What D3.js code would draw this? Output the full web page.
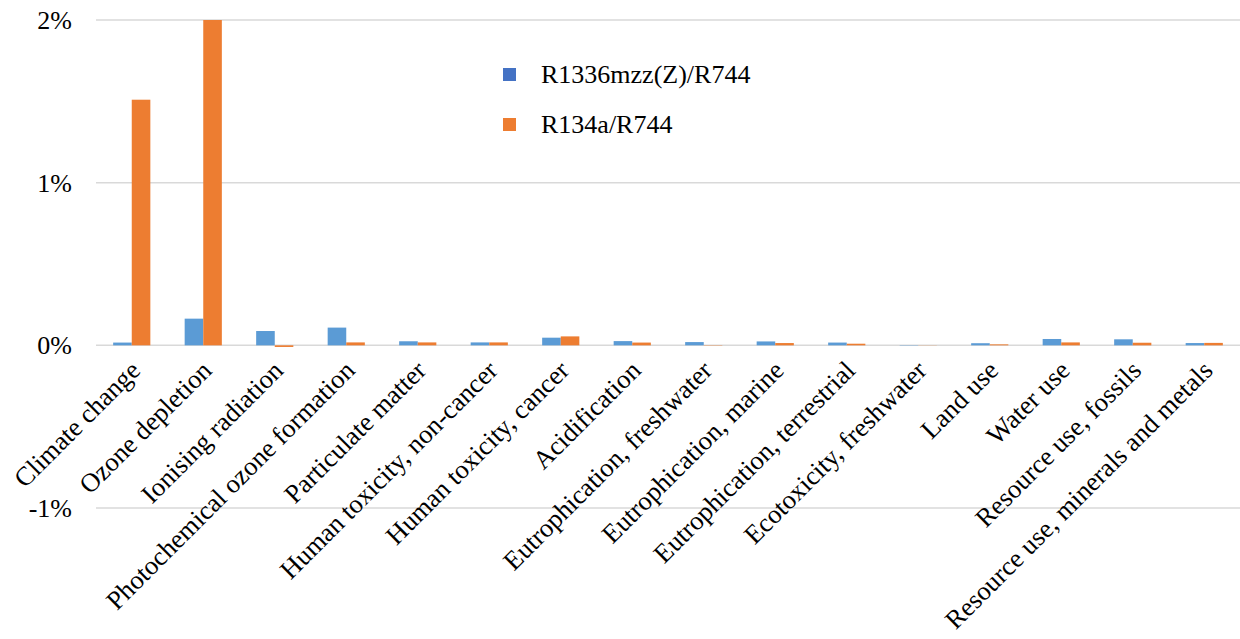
<!DOCTYPE html>
<html><head><meta charset="utf-8">
<script src="https://cdn.jsdelivr.net/npm/d3@7"></script>
<style>body{margin:0;background:#fff}svg{display:block}</style>
</head><body><svg id="c" width="1240" height="639"></svg>
<script>
const categories = ["Climate change","Ozone depletion","Ionising radiation","Photochemical ozone formation","Particulate matter","Human toxicity, non-cancer","Human toxicity, cancer","Acidification","Eutrophication, freshwater","Eutrophication, marine","Eutrophication, terrestrial","Ecotoxicity, freshwater","Land use","Water use","Resource use, fossils","Resource use, minerals and metals"];
const seriesNames = ["R1336mzz(Z)/R744","R134a/R744"];
const r1336 = [0.017,0.164,0.088,0.109,0.025,0.018,0.047,0.026,0.020,0.024,0.017,0.002,0.013,0.039,0.037,0.014];
const r134a = [1.51,2.0,-0.010,0.018,0.018,0.018,0.055,0.017,0.002,0.014,0.010,0.001,0.006,0.018,0.016,0.015];
const yTicks = [-1,0,1,2];
const yTickLabels = ["-1%","0%","1%","2%"];

(function(){
const svg = d3.select("#c");
const pl = 96, pr = 1240, pt = 20, pb = 508;
const font = "'Liberation Serif','Times New Roman',serif";
const x = d3.scaleBand().domain(categories).range([pl,pr]).paddingInner(0.48).paddingOuter(0.24);
const y = d3.scaleLinear().domain([-1,2]).range([pb,pt]);
const xs = d3.scaleBand().domain(seriesNames).range([0,x.bandwidth()]);
const barColors = ["#5B9BD5","#ED7D31"];
const legendColors = ["#4472C4","#ED7D31"];

svg.append("g").selectAll("line").data(yTicks).join("line")
  .attr("x1",pl).attr("x2",pr).attr("y1",d=>y(d)).attr("y2",d=>y(d))
  .attr("stroke","#d9d9d9").attr("stroke-width",1.5);

const data = categories.map((c,i)=>({c, vals:[r1336[i], r134a[i]]}));
const g = svg.append("g");
data.forEach(d=>{
  d.vals.forEach((v,j)=>{
    g.append("rect")
      .attr("x", x(d.c)+xs(seriesNames[j]))
      .attr("width", xs.bandwidth())
      .attr("y", y(Math.max(0,v)))
      .attr("height", Math.abs(y(v)-y(0)))
      .attr("fill", barColors[j]);
  });
});

svg.append("g").selectAll("text").data(yTicks).join("text")
  .attr("x",72).attr("y",d=>y(d)).attr("dy","0.35em")
  .attr("text-anchor","end").attr("font-family",font).attr("font-size",26)
  .text((d,i)=>yTickLabels[i]);

svg.append("g").selectAll("text").data(categories).join("text")
  .attr("transform",d=>`translate(${x(d)+x.bandwidth()/2+10},${372}) rotate(-45)`)
  .attr("text-anchor","end").attr("font-family",font).attr("font-size",26.5)
  .text(d=>d);

const lg = svg.append("g");
seriesNames.forEach((s,i)=>{
  lg.append("rect").attr("x",503).attr("y",68+i*50).attr("width",13).attr("height",13).attr("fill",legendColors[i]);
  lg.append("text").attr("x",541).attr("y",83+i*50).attr("font-family",font).attr("font-size",26).text(s);
});
})();
</script></body></html>
